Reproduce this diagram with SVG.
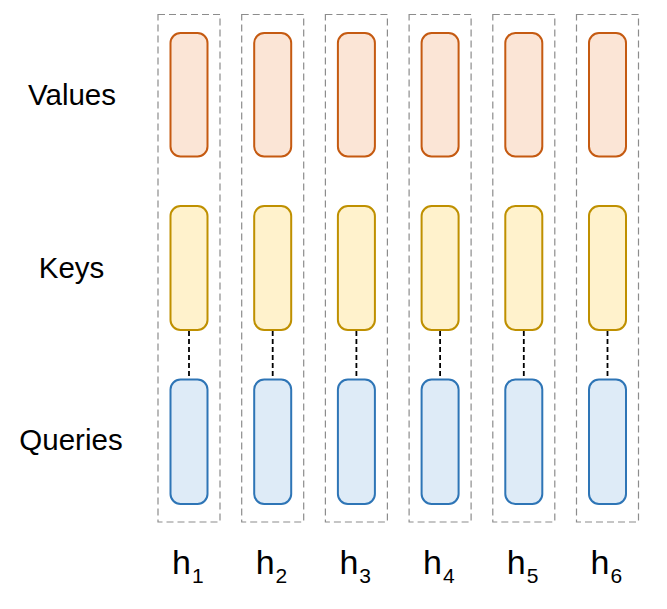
<svg xmlns="http://www.w3.org/2000/svg" width="667" height="609" viewBox="0 0 667 609">
<defs>
<style>
.box{fill:none;stroke:#8c8c8c;stroke-width:1.2;stroke-dasharray:7,4}
.v{fill:#FBE5D6;stroke:#C55A11;stroke-width:2}
.k{fill:#FFF2CC;stroke:#BF9000;stroke-width:2}
.q{fill:#DEEBF7;stroke:#2E75B6;stroke-width:2}
.lbl{font-family:"Liberation Sans",Arial,sans-serif;font-size:29.5px;fill:#000;text-anchor:middle}
.h{font-family:"Liberation Sans",Arial,sans-serif;font-size:34px;fill:#000}
.sub{font-size:21px}
.c{stroke:#000;stroke-width:1.8;stroke-dasharray:5,3;fill:none}
</style>
<g id="col">
<rect class="box" x="0" y="14.5" width="62" height="507.5"/>
<rect class="v" x="12.5" y="33" width="37" height="123.5" rx="10"/>
<rect class="k" x="12.5" y="206" width="37" height="124" rx="10"/>
<rect class="q" x="12.5" y="379.5" width="37" height="124.5" rx="10"/>
</g>
</defs>
<g id="labels">
<text class="lbl" x="72" y="105">Values</text>
<text class="lbl" x="71.5" y="278">Keys</text>
<text class="lbl" x="71" y="450">Queries</text>
</g>
<g id="head1" transform="translate(158,0)"><use href="#col"/></g>
<g id="head2" transform="translate(241.7,0)"><use href="#col"/></g>
<g id="head3" transform="translate(325.4,0)"><use href="#col"/></g>
<g id="head4" transform="translate(409.1,0)"><use href="#col"/></g>
<g id="head5" transform="translate(492.8,0)"><use href="#col"/></g>
<g id="head6" transform="translate(576.5,0)"><use href="#col"/></g>
<g id="connectors">
<line class="c" x1="189" y1="331" x2="189" y2="378.5"/>
<line class="c" x1="272.7" y1="331" x2="272.7" y2="378.5"/>
<line class="c" x1="356.4" y1="331" x2="356.4" y2="378.5"/>
<line class="c" x1="440.1" y1="331" x2="440.1" y2="378.5"/>
<line class="c" x1="523.8" y1="331" x2="523.8" y2="378.5"/>
<line class="c" x1="607.5" y1="331" x2="607.5" y2="378.5"/>
</g>
<g id="hlabels">
<text class="h" x="172" y="574">h<tspan class="sub" dx="1" dy="9">1</tspan></text>
<text class="h" x="255.7" y="574">h<tspan class="sub" dx="1" dy="9">2</tspan></text>
<text class="h" x="339.4" y="574">h<tspan class="sub" dx="1" dy="9">3</tspan></text>
<text class="h" x="423.1" y="574">h<tspan class="sub" dx="1" dy="9">4</tspan></text>
<text class="h" x="506.8" y="574">h<tspan class="sub" dx="1" dy="9">5</tspan></text>
<text class="h" x="590.5" y="574">h<tspan class="sub" dx="1" dy="9">6</tspan></text>
</g>
</svg>
